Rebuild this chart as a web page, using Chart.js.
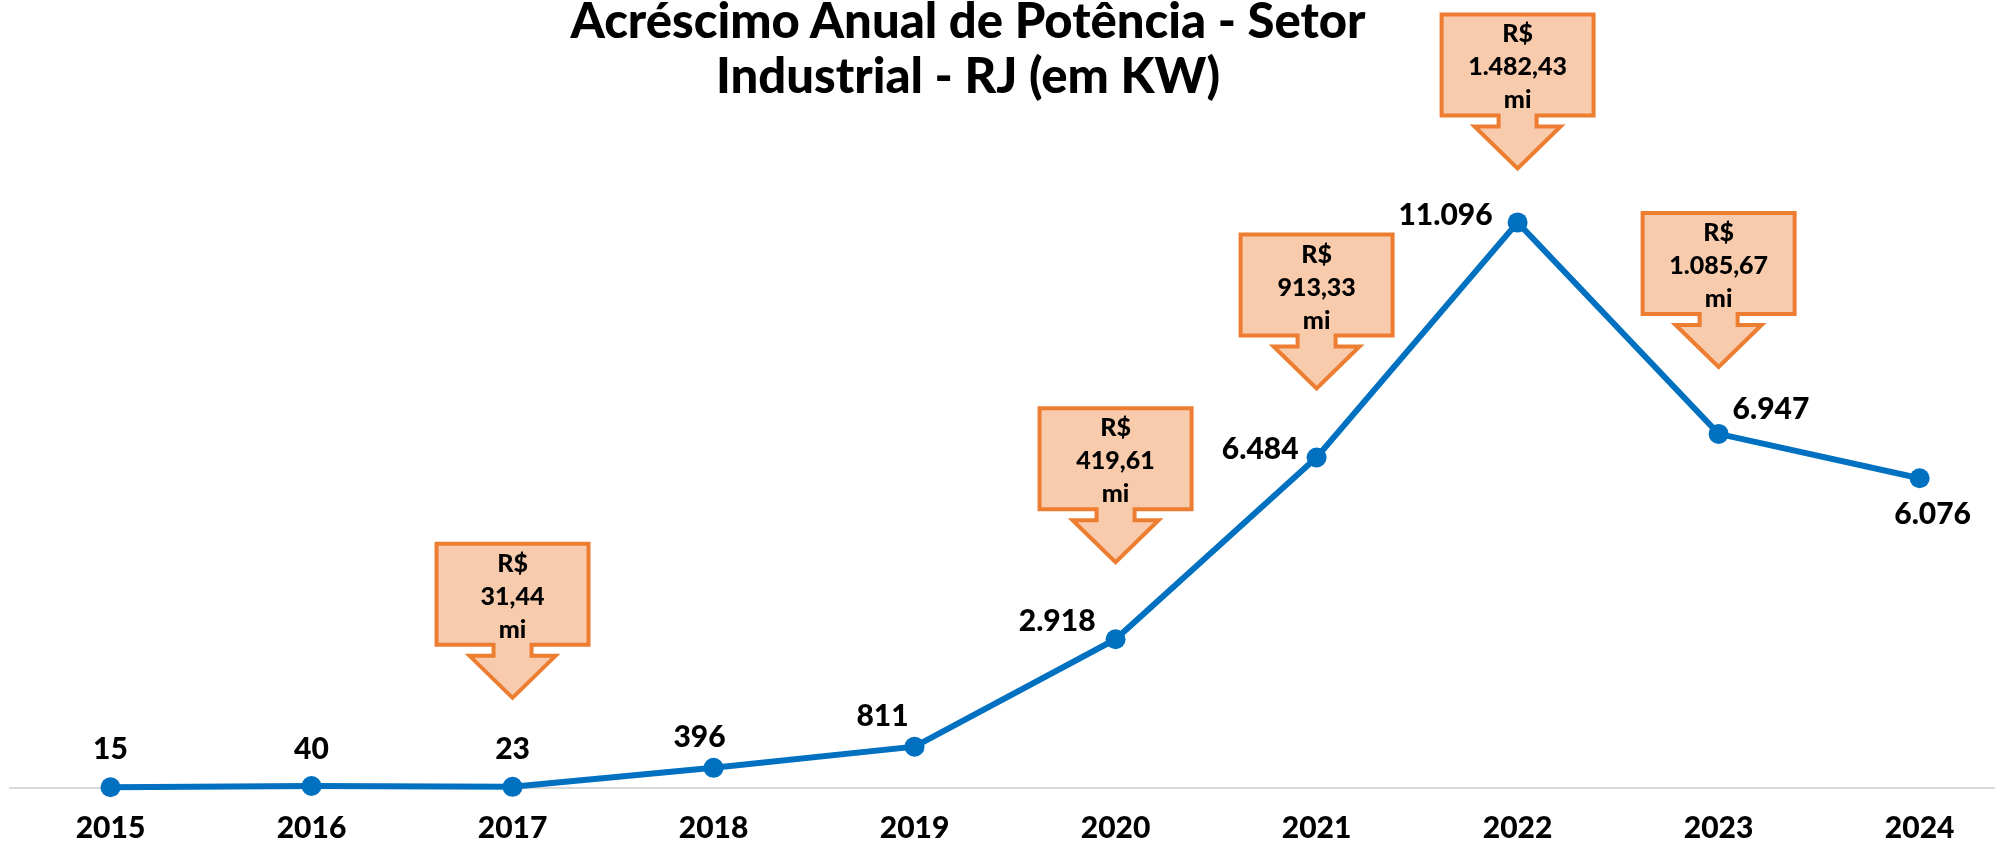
<!DOCTYPE html>
<html>
<head>
<meta charset="utf-8">
<script src="https://cdn.jsdelivr.net/npm/chart.js@4.4.1/dist/chart.umd.min.js"></script>
<style>
  html, body { margin: 0; padding: 0; background: #fff; overflow: hidden; }
  #wrap { position: relative; width: 2004px; height: 841px; }
  #titulo {
    position: absolute; top: -8px; left: 0; width: 1936px;
    text-align: center; font-family: Lato, 'Open Sans', sans-serif;
    font-weight: 900; font-size: 49px; line-height: 55px; color: #000;
  }
</style>
</head>
<body>
<div id="wrap">
  <canvas id="graficoPotencia" width="2004" height="841"></canvas>
  <div id="titulo">Acréscimo Anual de Potência - Setor<br>Industrial - RJ (em KW)</div>
</div>
<script>
// Dados do gráfico
const anos = [2015, 2016, 2017, 2018, 2019, 2020, 2021, 2022, 2023, 2024];
const potencia = [15, 40, 23, 396, 811, 2918, 6484, 11096, 6947, 6076];
const posRotulo = ['top', 'top', 'top', 'top', 'top', 'left', 'left', 'left', 'right', 'bottom'];
const deslocRotulo = [[0, -38], [0, -37], [0, -37], [-14, -30], [-32, -30], [-20, -18], [-18, -8], [-25, -7], [14, -25], [13, 36]];

// Valores de investimento (R$ mi) nos balões
const investAnos = [2017, 2020, 2021, 2022, 2023];
const investValores = [31.44, 419.61, 913.33, 1482.43, 1085.67];
const investDistancia = [89, 77, 69, 54, 67]; // distância do ponto até a ponta da seta (px)

const AZUL = '#0070C0';
const LARANJA = '#ED7D31';
const PESSEGO = '#F8CBAD';
const FONTE = "Lato, 'Open Sans', sans-serif";

function milhar(v) {
    return String(v).replace(/\B(?=(\d{3})+(?!\d))/g, '.');
}

function reais(v) {
    const partes = v.toFixed(2).split('.');
    return milhar(partes[0]) + ',' + partes[1];
}

// Rótulos de dados
const rotulosPlugin = {
    id: 'rotulos',
    afterDatasetsDraw(chart) {
        const ctx = chart.ctx;
        const meta = chart.getDatasetMeta(0);
        ctx.save();
        ctx.font = '900 30px ' + FONTE;
        ctx.fillStyle = '#000';
        ctx.textBaseline = 'middle';
        meta.data.forEach((pt, i) => {
            const txt = milhar(potencia[i]);
            const pos = posRotulo[i];
            const [dx, dy] = deslocRotulo[i];
            if (pos === 'left') ctx.textAlign = 'right';
            else if (pos === 'right') ctx.textAlign = 'left';
            else ctx.textAlign = 'center';
            ctx.fillText(txt, pt.x + dx, pt.y + dy);
        });
        ctx.restore();
    }
};

// Balões com seta para baixo
const baloesPlugin = {
    id: 'baloes',
    afterDatasetsDraw(chart) {
        const ctx = chart.ctx;
        const xs = chart.scales.x;
        const ys = chart.scales.y;
        const boxW = 152, boxH = 101, hasteW = 38, hasteH = 11, cabW = 86, cabH = 42;
        ctx.save();
        investAnos.forEach((ano, i) => {
            const idx = anos.indexOf(ano);
            const cx = xs.getPixelForValue(ano);
            const ponta = ys.getPixelForValue(potencia[idx]) - investDistancia[i];
            const base = ponta - cabH - hasteH;
            const topo = base - boxH;

            ctx.beginPath();
            ctx.moveTo(cx - boxW / 2, topo);
            ctx.lineTo(cx + boxW / 2, topo);
            ctx.lineTo(cx + boxW / 2, base);
            ctx.lineTo(cx + hasteW / 2, base);
            ctx.lineTo(cx + hasteW / 2, base + hasteH);
            ctx.lineTo(cx + cabW / 2, base + hasteH);
            ctx.lineTo(cx, ponta);
            ctx.lineTo(cx - cabW / 2, base + hasteH);
            ctx.lineTo(cx - hasteW / 2, base + hasteH);
            ctx.lineTo(cx - hasteW / 2, base);
            ctx.lineTo(cx - boxW / 2, base);
            ctx.closePath();
            ctx.fillStyle = PESSEGO;
            ctx.fill();
            ctx.lineWidth = 4;
            ctx.strokeStyle = LARANJA;
            ctx.lineJoin = 'miter';
            ctx.stroke();

            ctx.fillStyle = '#000';
            ctx.font = '900 25px ' + FONTE;
            ctx.textAlign = 'center';
            ctx.textBaseline = 'middle';
            ctx.fillText('R$', cx, topo + 20);
            ctx.fillText(reais(investValores[i]), cx, topo + 53);
            ctx.fillText('mi', cx, topo + 86);
        });
        ctx.restore();
    }
};

const ctx = document.getElementById('graficoPotencia').getContext('2d');
const graficoPotencia = new Chart(ctx, {
    type: 'line',
    data: {
        datasets: [{
            label: 'Potência (KW)',
            data: anos.map((a, i) => ({ x: a, y: potencia[i] })),
            borderColor: AZUL,
            backgroundColor: AZUL,
            borderWidth: 6,
            pointRadius: 10,
            pointBorderWidth: 0,
            pointBackgroundColor: AZUL,
            tension: 0,
            clip: false
        }]
    },
    options: {
        responsive: false,
        animation: false,
        layout: { padding: { left: 9.5, right: 0, top: 0, bottom: 0 } },
        plugins: {
            legend: { display: false },
            tooltip: { enabled: false },
            title: { display: false }
        },
        scales: {
            x: {
                type: 'linear',
                min: 2014.5,
                max: 2024.37,
                afterBuildTicks: axis => { axis.ticks = anos.map(a => ({ value: a })); },
                afterFit: axis => { axis.height = 53; },
                grid: { display: false, drawTicks: false },
                border: { display: true, color: '#d9d9d9', width: 2 },
                ticks: {
                    padding: 22,
                    color: '#000',
                    font: { family: FONTE, size: 30, weight: '900' },
                    callback: v => String(v),
                    autoSkip: false,
                    maxRotation: 0
                }
            },
            y: {
                display: false,
                min: 0,
                max: 15263
            }
        }
    },
    plugins: [rotulosPlugin, baloesPlugin]
});
</script>
</body>
</html>
